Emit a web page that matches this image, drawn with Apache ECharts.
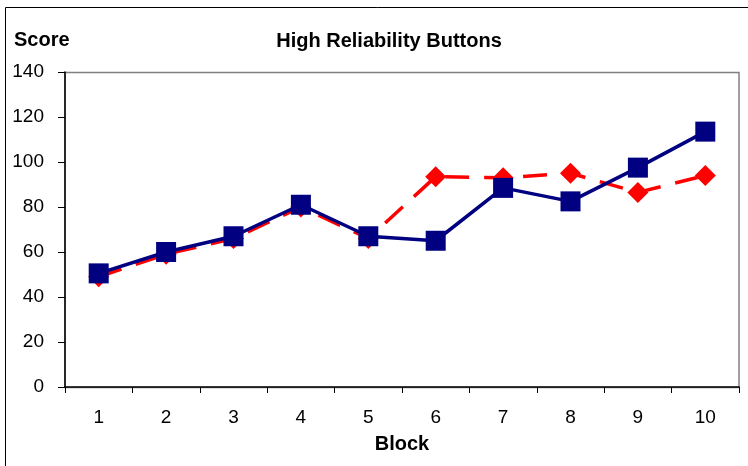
<!DOCTYPE html>
<html><head><meta charset="utf-8">
<script src="https://cdn.jsdelivr.net/npm/echarts@6/dist/echarts.min.js"></script>
<style>html,body{margin:0;padding:0;background:#fff}#c{width:748px;height:466px}</style>
</head><body><div id="c"></div>
<script>
const categories = ['1','2','3','4','5','6','7','8','9','10'];
const blueValues = [50.5, 60, 67, 81, 67, 65, 88.5, 82.5, 97.5, 113.5];
const redValues = [49, 59, 66, 80, 66, 93.5, 93, 95, 86.5, 94];
const yTicks = [0, 20, 40, 60, 80, 100, 120, 140];

const chart = echarts.init(document.getElementById('c'));
const font = 'Liberation Sans, Arial, sans-serif';
chart.setOption({
  animation: false,
  graphic: [
    { type: 'rect', shape: { x: 5.5, y: 7.5, width: 800, height: 500 }, style: { fill: null, stroke: '#000', lineWidth: 1 }, z: -10 },
    { type: 'rect', shape: { x: 65, y: 72.5, width: 674, height: 315 }, style: { fill: null, stroke: '#808080', lineWidth: 1.5 }, z: -5 },
    { type: 'text', left: 14, top: 30, style: { text: 'Score', font: 'bold 20px ' + font, fill: '#000' } }
  ],
  title: {
    text: 'High Reliability Buttons', left: 384, top: 26, textAlign: 'center',
    textStyle: { fontFamily: font, fontSize: 20, fontWeight: 'bold', color: '#000' }
  },
  grid: { left: 65, right: 9, top: 72, bottom: 79 },
  xAxis: {
    type: 'category', data: categories, boundaryGap: true,
    name: 'Block', nameLocation: 'middle', nameGap: 47,
    nameTextStyle: { fontFamily: font, fontSize: 20, fontWeight: 'bold', color: '#000' },
    axisLine: { lineStyle: { color: '#000', width: 1.5 } },
    axisTick: { show: true, length: 6, lineStyle: { color: '#000' } },
    axisLabel: { fontFamily: font, fontSize: 19, color: '#000', margin: 21 },
    splitLine: { show: false }
  },
  yAxis: {
    type: 'value', min: 0, max: 140, interval: 20,
    axisLine: { show: true, lineStyle: { color: '#000', width: 1.5 } },
    axisTick: { show: true, length: 7, lineStyle: { color: '#000' } },
    axisLabel: { fontFamily: font, fontSize: 19, color: '#000', margin: 21,
      formatter: v => yTicks.includes(v) ? String(v) : '' },
    splitLine: { show: false }
  },
  series: [
    {
      name: 'Red', type: 'line', data: redValues,
      symbol: 'diamond', symbolSize: 21,
      itemStyle: { color: '#ff0000' },
      lineStyle: { color: '#ff0000', width: 3.5, type: [24, 15] },
      z: 2
    },
    {
      name: 'Blue', type: 'line', data: blueValues,
      symbol: 'rect', symbolSize: 20,
      itemStyle: { color: '#000080' },
      lineStyle: { color: '#000080', width: 3.5 },
      z: 3
    }
  ]
});
</script></body></html>
